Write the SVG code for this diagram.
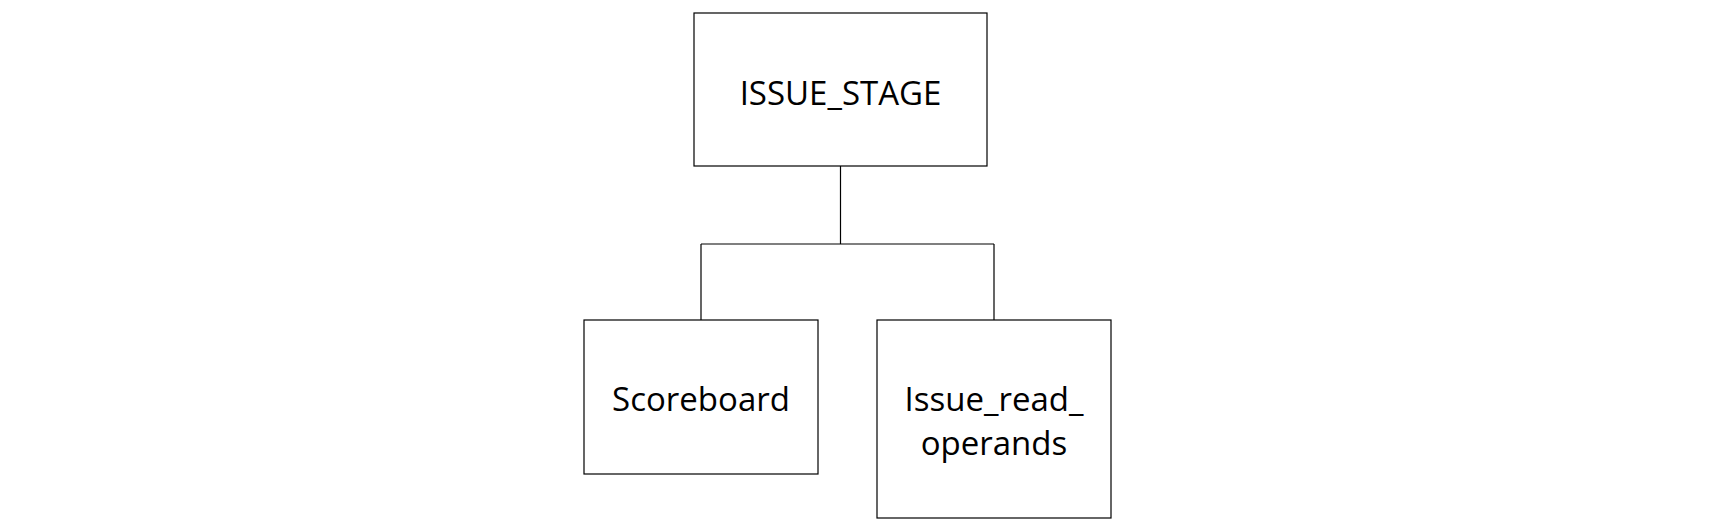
<svg xmlns="http://www.w3.org/2000/svg" width="1716" height="528" viewBox="0 0 1716 528">
<style>
.box{fill:#fff;stroke:#000;stroke-width:1.2}
.lbl{font-family:"Open Sans","Noto Sans","Liberation Sans",sans-serif;font-size:33px;fill:#000;text-anchor:middle}
.con{fill:none;stroke:#000;stroke-width:1.2}
</style>
<rect width="1716" height="528" fill="#fff"/>
<g id="connectors">
<path class="con" d="M840.5,166 V244 M701,244 H994 M701,244 V320 M994,244 V320"/>
</g>
<g id="issue_stage">
<rect class="box" x="694" y="13" width="293" height="153"/>
<text class="lbl" x="840.5" y="105">ISSUE_STAGE</text>
</g>
<g id="scoreboard">
<rect class="box" x="584" y="320" width="234" height="154"/>
<text class="lbl" x="701" y="411">Scoreboard</text>
</g>
<g id="issue_read_operands">
<rect class="box" x="877" y="320" width="234" height="198"/>
<text class="lbl" x="994" y="411">Issue_read_</text>
<text class="lbl" x="994" y="455">operands</text>
</g>
</svg>
